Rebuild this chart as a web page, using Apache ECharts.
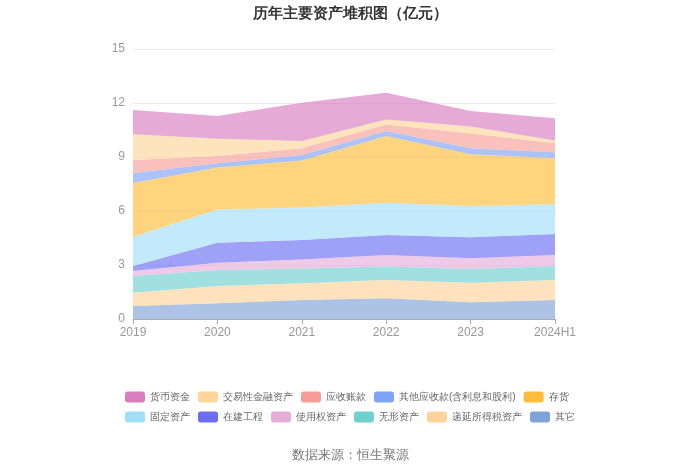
<!DOCTYPE html>
<html>
<head>
<meta charset="utf-8">
<script src="https://cdn.jsdelivr.net/npm/echarts@6/dist/echarts.min.js"></script>
<style>
html,body{margin:0;padding:0;background:#fff;}
#main{width:700px;height:473px;}
</style>
</head>
<body>
<div id="main"></div>
<script>
// categories
var years = ['2019', '2020', '2021', '2022', '2023', '2024H1'];

// values, 亿元 (bottom of stack first)
var qita     = [0.72, 0.87, 1.06, 1.15, 0.93, 1.06];
var diyan    = [0.74, 0.96, 0.92, 1.02, 1.09, 1.11];
var wuxing   = [0.93, 0.89, 0.83, 0.74, 0.76, 0.77];
var shiyong  = [0.28, 0.41, 0.50, 0.65, 0.59, 0.62];
var zaijian  = [0.27, 1.11, 1.08, 1.11, 1.17, 1.16];
var guding   = [1.63, 1.85, 1.80, 1.79, 1.74, 1.65];
var cunhuo   = [2.99, 2.32, 2.61, 3.71, 2.87, 2.56];
var qitayings = [0.55, 0.24, 0.31, 0.27, 0.33, 0.33];
var yingshou = [0.72, 0.41, 0.37, 0.37, 0.83, 0.50];
var jiaoyi   = [1.43, 0.96, 0.41, 0.28, 0.38, 0.15];
var huobi    = [1.35, 1.26, 2.13, 1.48, 0.87, 1.24];

var yTicks = [0, 3, 6, 9, 12, 15];

var legendNames = ['货币资金', '交易性金融资产', '应收账款', '其他应收款(含利息和股利)', '存货',
                   '固定资产', '在建工程', '使用权资产', '无形资产', '递延所得税资产', '其它'];

var stackList = [
  ['其它', qita, '#7fa3d7'],
  ['递延所得税资产', diyan, '#fdd29b'],
  ['无形资产', wuxing, '#6fd0cf'],
  ['使用权资产', shiyong, '#e7add9'],
  ['在建工程', zaijian, '#6c6ef2'],
  ['固定资产', guding, '#a3def8'],
  ['存货', cunhuo, '#fdbd3a'],
  ['其他应收款(含利息和股利)', qitayings, '#7ea3f7'],
  ['应收账款', yingshou, '#f89e98'],
  ['交易性金融资产', jiaoyi, '#fed59a'],
  ['货币资金', huobi, '#d87dc0']
];

var series = [];
for (var i = 0; i < stackList.length; i++) {
  series.push({
    name: stackList[i][0],
    type: 'line',
    stack: 'total',
    data: stackList[i][1],
    symbol: 'none',
    lineStyle: {width: 0},
    itemStyle: {color: stackList[i][2]},
    areaStyle: {color: stackList[i][2], opacity: 0.65}
  });
}

var chart = echarts.init(document.getElementById('main'));
var option = {
  animation: false,
  title: {
    text: '历年主要资产堆积图（亿元）',
    left: 'center',
    top: 1,
    textStyle: {fontSize: 15, fontWeight: 'bold', color: '#333'}
  },
  legend: {
    data: legendNames,
    left: 'center',
    top: 391,
    width: 455,
    itemWidth: 20,
    itemHeight: 11,
    itemGap: 8,
    itemTextGap: 5,
    icon: 'roundRect',
    textStyle: {fontSize: 10, color: '#666', lineHeight: 12},
    padding: [0, 0, 0, 0]
  },
  grid: {left: 133, right: 145, top: 49, bottom: 154},
  xAxis: {
    type: 'category',
    data: years,
    boundaryGap: false,
    axisLine: {lineStyle: {color: '#aaa'}},
    axisTick: {lineStyle: {color: '#aaa'}},
    axisLabel: {color: '#999', fontSize: 12}
  },
  yAxis: {
    type: 'value',
    min: yTicks[0],
    max: yTicks[yTicks.length - 1],
    interval: 3,
    axisLabel: {color: '#999', fontSize: 12},
    splitLine: {lineStyle: {color: '#e8ecf4'}}
  },
  graphic: [{
    type: 'text',
    left: 'center',
    top: 449,
    style: {text: '数据来源：恒生聚源', fill: '#777', fontSize: 13}
  }],
  series: series
};
chart.setOption(option);
</script>
</body>
</html>
